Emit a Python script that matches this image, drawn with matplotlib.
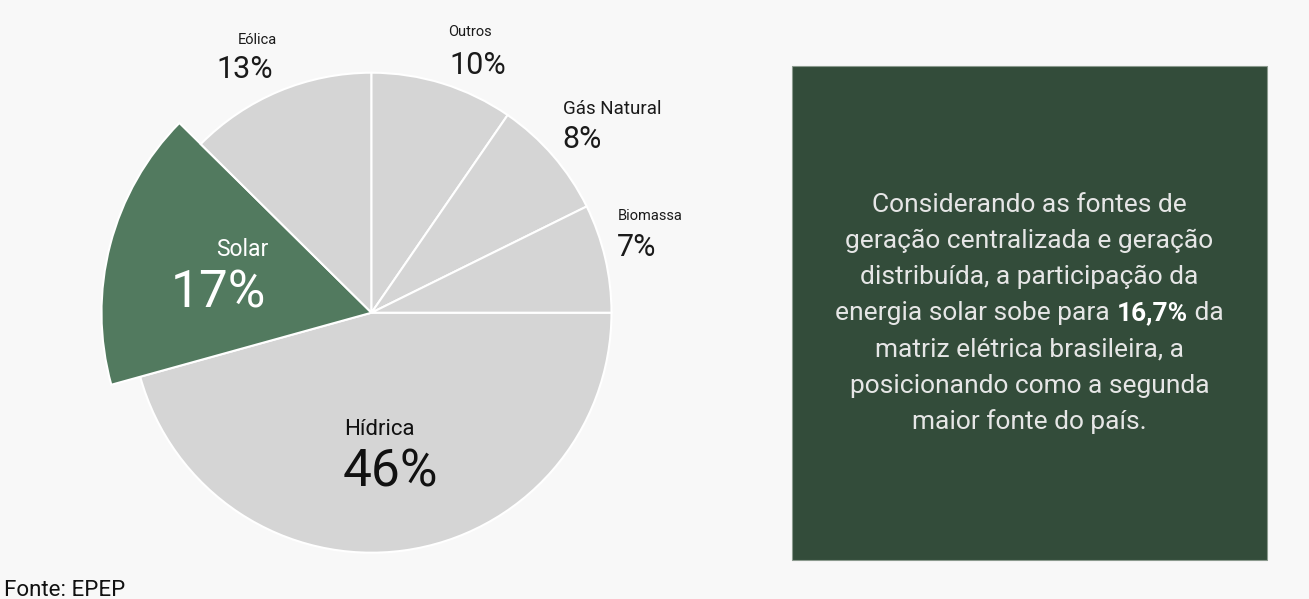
import matplotlib
matplotlib.use("Agg")
import matplotlib.pyplot as plt
from matplotlib.patches import Rectangle

plt.rcParams['font.family'] = ['Roboto', 'DejaVu Sans']

# ----- Data
fontes = ['Hídrica', 'Solar', 'Eólica', 'Outros', 'Gás Natural', 'Biomassa']
participacao = [45.7, 16.7, 12.6, 9.6, 8.1, 7.3]
destaque = 'Solar'

texto_linhas = [
    'Considerando as fontes de',
    'geração centralizada e geração',
    'distribuída, a participação da',
    ('energia solar sobe para ', '16,7%', ' da'),
    'matriz elétrica brasileira, a',
    'posicionando como a segunda',
    'maior fonte do país.',
]
fonte_dados = 'Fonte: EPEP'

# ----- Style
BG = '#f8f8f8'
GRAY = '#d5d5d5'
GREEN = '#527a5f'
BOX = '#334c3a'
W, H = 1309, 599


def py(y):
    # pixel row (from the top) to data y
    return H - y


fig = plt.figure(figsize=(W / 100, H / 100), dpi=100, facecolor=BG)
ax = fig.add_axes([0, 0, 1, 1])
ax.set_facecolor(BG)

colors = [GREEN if f == destaque else GRAY for f in fontes]
wedges, _ = ax.pie(participacao, colors=colors, startangle=0, counterclock=False,
                   radius=240, center=(371.5, py(312.7)),
                   wedgeprops=dict(edgecolor='white', linewidth=1.5))
# the highlighted slice sticks out a bit
wedges[fontes.index(destaque)].set_radius(270)

ax.set_xlim(0, W)
ax.set_ylim(0, H)
ax.set_aspect('equal')
ax.axis('off')

# ----- Slice labels: (name x, name y, name size, pct x, pct y, pct size, ha, color)
label_pos = {
    'Hídrica': (379, 427, 16, 390, 467, 37, 'center', '#111111'),
    'Solar': (242, 247, 16.5, 218, 288, 37, 'center', 'white'),
    'Eólica': (238, 39, 10.5, 216, 67, 22, 'left', '#1a1a1a'),
    'Outros': (448, 31, 10.5, 449, 62, 22, 'left', '#1a1a1a'),
    'Gás Natural': (563, 107, 13.5, 562, 137, 22, 'left', '#1a1a1a'),
    'Biomassa': (618, 214, 10.5, 617, 245, 22, 'left', '#1a1a1a'),
}
for f, v in zip(fontes, participacao):
    nx, ny, ns, vx, vy, vs, ha, c = label_pos[f]
    ax.text(nx, py(ny), f, fontsize=ns, color=c, ha=ha, va='center_baseline')
    ax.text(vx, py(vy), f'{round(v):d}%', fontsize=vs, color=c, ha=ha, va='center_baseline')

# ----- Text box
ax.add_patch(Rectangle((792, py(560)), 475, 494, facecolor=BOX, edgecolor='#8b9a8e', linewidth=0.8))

fig.canvas.draw()
renderer = fig.canvas.get_renderer()
cx = 1029.5
fs = 19
for i, linha in enumerate(texto_linhas):
    y = py(202 + 36.2 * i)
    if isinstance(linha, str):
        ax.text(cx, y, linha, fontsize=fs, color='#e6e6e6', ha='center', va='center_baseline')
        continue
    # mixed weight line: measure pieces then lay them out centred
    pieces = [(linha[0], 'normal', '#e6e6e6'), (linha[1], 'bold', 'white'), (linha[2], 'normal', '#e6e6e6')]
    arts = [ax.text(0, y, s, fontsize=fs, fontweight=w, color=c, ha='left', va='center_baseline')
            for s, w, c in pieces]
    widths = []
    for a in arts:
        bb = a.get_window_extent(renderer)
        widths.append(bb.width)
    x = cx - sum(widths) / 2
    for a, wd in zip(arts, widths):
        a.set_x(x)
        x += wd

ax.text(4, py(588), fonte_dados, fontsize=16, color='#111111', ha='left', va='center_baseline')

fig.savefig('out.png', dpi=100, facecolor=BG)
